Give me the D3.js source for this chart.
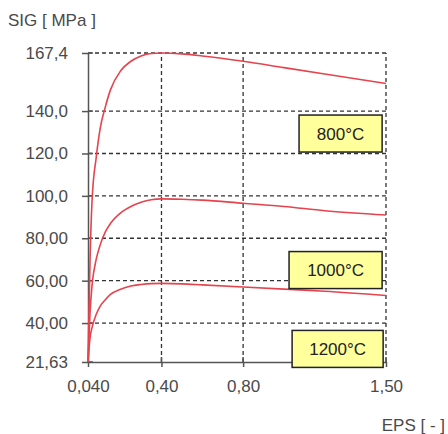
<!DOCTYPE html>
<html>
<head>
<meta charset="utf-8">
<script src="https://cdn.jsdelivr.net/npm/d3@7"></script>
<style>
body { margin: 0; background: #fff; }
text { font-family: "Liberation Sans", Arial, sans-serif; }
</style>
</head>
<body>
<script>
var width = 448,
    height = 434;

// strain values (EPS)
var eps = [0.04, 0.05, 0.06, 0.08, 0.10, 0.125, 0.15, 0.2, 0.25, 0.3, 0.35, 0.4, 0.5, 0.6, 0.8, 1.0, 1.2, 1.5];
var sig800 = [21.63, 70, 98, 118, 132, 142, 150, 159, 163.5, 166, 167.2, 167.4, 167, 166, 163.5, 160.5, 157.5, 153];
var sig1000 = [21.63, 45, 58, 70, 77, 83, 87, 92, 95, 97, 98.2, 98.6, 98.4, 98, 96.5, 95, 93, 91];
var sig1200 = [21.63, 33, 38, 44, 48, 51, 53.5, 56, 57.5, 58.2, 58.6, 58.7, 58.5, 58, 57, 56, 55, 53];
var temps = ['800°C', '1000°C', '1200°C'];

var yTicks = [167.4, 140, 120, 100, 80, 60, 40, 21.63];
var yLabels = ['167,4', '140,0', '120,0', '100,0', '80,00', '60,00', '40,00', '21,63'];
var xTicks = [0.04, 0.4, 0.8, 1.5];
var xLabels = ['0,040', '0,40', '0,80', '1,50'];

var x = d3.scaleLinear().domain([0.04, 1.5]).range([88, 386]),
    y = d3.scaleLinear().domain([21.63, 167.4]).range([362, 53]);

var svg = d3.select('body').append('svg')
    .attr('width', width)
    .attr('height', height);

// dashed grid
svg.selectAll('line.hgrid')
    .data(yTicks.slice(0, -1))
    .enter().append('line')
    .attr('class', 'hgrid')
    .attr('x1', x(0.04)).attr('x2', x(1.5))
    .attr('y1', function (d) { return y(d); })
    .attr('y2', function (d) { return y(d); })
    .attr('stroke', '#333')
    .attr('stroke-width', 1.3)
    .attr('stroke-dasharray', '4,3');

svg.selectAll('line.vgrid')
    .data(xTicks.slice(1))
    .enter().append('line')
    .attr('class', 'vgrid')
    .attr('y1', y(21.63)).attr('y2', y(167.4))
    .attr('x1', function (d) { return x(d); })
    .attr('x2', function (d) { return x(d); })
    .attr('stroke', '#333')
    .attr('stroke-width', 1.3)
    .attr('stroke-dasharray', '4,3');

// axes
var yAxis = d3.axisLeft(y)
    .tickValues(yTicks)
    .tickFormat(function (d, i) { return yLabels[i]; })
    .tickSizeInner(6).tickSizeOuter(0)
    .tickPadding(14);
var xAxis = d3.axisBottom(x)
    .tickValues(xTicks)
    .tickFormat(function (d, i) { return xLabels[i]; })
    .tickSizeInner(5).tickSizeOuter(0)
    .tickPadding(13);

function styleAxis(g) {
    g.selectAll('path,line').attr('stroke', '#555').attr('stroke-width', 1.5);
    g.selectAll('text')
        .attr('fill', '#4a4a4a')
        .style('font-size', '17px')
        .style('font-family', '"Liberation Sans", Arial, sans-serif');
}

svg.append('g')
    .attr('transform', 'translate(' + x(0.04) + ',0)')
    .call(yAxis)
    .call(styleAxis);

svg.append('g')
    .attr('transform', 'translate(0,' + y(21.63) + ')')
    .call(xAxis)
    .call(styleAxis);

// tick crosses on the inner side
svg.selectAll('line.ytick2')
    .data(yTicks)
    .enter().append('line')
    .attr('x1', x(0.04)).attr('x2', x(0.04) + 5)
    .attr('y1', function (d) { return y(d); })
    .attr('y2', function (d) { return y(d); })
    .attr('stroke', '#555').attr('stroke-width', 1.5);
svg.selectAll('line.xtick2')
    .data(xTicks.slice(1))
    .enter().append('line')
    .attr('y1', y(21.63)).attr('y2', y(21.63) - 5)
    .attr('x1', function (d) { return x(d); })
    .attr('x2', function (d) { return x(d); })
    .attr('stroke', '#555').attr('stroke-width', 1.5);

// curves
var line = d3.line()
    .x(function (d) { return x(d[0]); })
    .y(function (d) { return y(d[1]); })
    .curve(d3.curveMonotoneX);

[sig800, sig1000, sig1200].forEach(function (s) {
    svg.append('path')
        .datum(eps.map(function (e, i) { return [e, s[i]]; }))
        .attr('d', line)
        .attr('fill', 'none')
        .attr('stroke', '#e6434d')
        .attr('stroke-width', 1.6);
});

// temperature boxes
var boxes = [
    { t: temps[0], x0: 1.074, x1: 1.481, yc: 129.4 },
    { t: temps[1], x0: 1.025, x1: 1.481, yc: 65 },
    { t: temps[2], x0: 1.04, x1: 1.486, yc: 27.8 }
];
boxes.forEach(function (b) {
    var g = svg.append('g');
    g.append('rect')
        .attr('x', x(b.x0))
        .attr('y', y(b.yc) - 18.5)
        .attr('width', x(b.x1) - x(b.x0))
        .attr('height', 37)
        .attr('fill', '#ffff9c')
        .attr('stroke', '#222')
        .attr('stroke-width', 1.5);
    g.append('text')
        .attr('x', (x(b.x0) + x(b.x1)) / 2)
        .attr('y', y(b.yc) + 6)
        .attr('text-anchor', 'middle')
        .attr('fill', '#222')
        .style('font-size', '17px')
        .text(b.t);
});

// axis titles
svg.append('text')
    .attr('x', 8).attr('y', 26)
    .attr('fill', '#4a4a4a')
    .style('font-size', '17px')
    .text('SIG [ MPa ]');
svg.append('text')
    .attr('x', 445).attr('y', 431)
    .attr('text-anchor', 'end')
    .attr('fill', '#4a4a4a')
    .style('font-size', '17px')
    .text('EPS [ - ]');
</script>
</body>
</html>
